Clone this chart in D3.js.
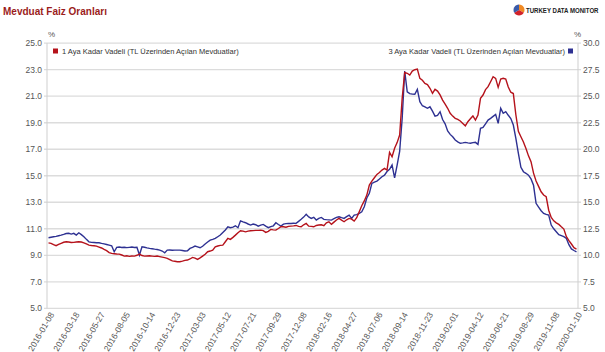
<!DOCTYPE html>
<html>
<head>
<meta charset="utf-8">
<script src="https://cdn.jsdelivr.net/npm/d3@7"></script>
<style>
  body { margin: 0; background: #fff; }
  svg { font-family: Arial, "Liberation Sans", sans-serif; }
</style>
</head>
<body>
<svg id="chart" width="605" height="352"></svg>
<script>
// weekly observations, 2016-01-08 .. 2020-01-10
const dates = d3.timeDay
  .range(new Date(2016, 0, 8), new Date(2020, 0, 11), 7)
  .map(d3.timeFormat('%Y-%m-%d'))
dates[190] = '2019-08-29'

const tickLabels = ['2016-01-08', '2016-03-18', '2016-05-27', '2016-08-05', '2016-10-14',
  '2016-12-23', '2017-03-03', '2017-05-12', '2017-07-21', '2017-09-29', '2017-12-08',
  '2018-02-16', '2018-04-27', '2018-07-06', '2018-09-14', '2018-11-23', '2019-02-01',
  '2019-04-12', '2019-06-21', '2019-08-29', '2019-11-08', '2020-01-10']

const seriesNames = [
  '1 Aya Kadar Vadeli (TL Üzerinden Açılan Mevduatlar)',
  '3 Aya Kadar Vadeli (TL Üzerinden Açılan Mevduatlar)'
]

// 1 month, left axis (%)
const oneMonth = [
  9.94, 9.90, 9.80, 9.72, 9.82, 9.90, 9.98, 10.02, 10.00, 9.96,
  9.97, 10.00, 10.02, 10.00, 9.94, 9.86, 9.77, 9.74, 9.72, 9.69,
  9.62, 9.55, 9.44, 9.35, 9.20, 9.14, 9.12, 9.10, 9.09, 9.02,
  8.94, 8.96, 8.92, 8.95, 8.94, 9.00, 9.09, 8.98, 8.94, 8.95,
  8.96, 8.94, 8.92, 8.94, 8.90, 8.86, 8.82, 8.77, 8.68, 8.58,
  8.55, 8.51, 8.51, 8.56, 8.62, 8.64, 8.72, 8.84, 8.78, 8.69,
  8.80, 8.94, 9.08, 9.27, 9.32, 9.39, 9.64, 9.70, 9.75, 9.77,
  10.02, 10.27, 10.20, 10.35, 10.52, 10.70, 10.85, 10.82, 10.77, 10.82,
  10.85, 10.86, 10.88, 10.88, 10.90, 10.86, 10.73, 10.80, 10.95, 10.92,
  10.90, 11.02, 11.15, 11.15, 11.12, 11.18, 11.20, 11.22, 11.25, 11.18,
  11.15, 11.30, 11.40, 11.20, 11.18, 11.15, 11.25, 11.28, 11.30, 11.23,
  11.45, 11.53, 11.33, 11.50, 11.66, 11.78, 11.65, 11.53, 11.68, 11.78,
  11.73, 11.58, 11.83, 12.28, 12.74, 13.10, 13.54, 14.30, 14.60, 14.85,
  15.10, 15.25, 15.43, 15.56, 15.43, 16.77, 16.43, 17.07, 17.50, 18.07,
  20.84, 22.80, 22.73, 22.60, 22.90, 23.00, 23.05, 22.35, 22.20, 21.97,
  21.88, 21.60, 21.22, 21.52, 21.39, 21.10, 20.71, 20.40, 20.09, 19.71,
  19.50, 19.33, 19.25, 19.13, 18.95, 18.77, 19.08, 19.30, 19.51, 19.20,
  19.58, 20.84, 21.09, 21.50, 21.72, 22.09, 22.47, 22.35, 21.67, 22.30,
  22.35, 22.30, 21.70, 21.30, 21.20, 19.60, 18.35, 17.94, 17.55, 17.05,
  16.50, 16.06, 15.20, 14.60, 14.20, 13.79, 13.55, 13.42, 12.40, 11.85,
  11.60, 11.45, 11.33, 11.15, 10.98, 10.40, 10.10, 9.85, 9.57, 9.47
]

// 3 month, right axis (%)
const threeMonth = [
  11.65, 11.70, 11.75, 11.78, 11.84, 11.90, 11.97, 12.05, 12.07, 12.00,
  12.07, 11.90, 12.12, 11.95, 11.75, 11.50, 11.27, 11.22, 11.20, 11.18,
  11.18, 11.12, 11.08, 11.02, 10.96, 10.90, 10.33, 10.75, 10.78, 10.74,
  10.76, 10.72, 10.75, 10.78, 10.74, 10.75, 10.02, 10.80, 10.76, 10.70,
  10.65, 10.62, 10.58, 10.55, 10.49, 10.40, 10.24, 10.49, 10.50, 10.48,
  10.49, 10.49, 10.49, 10.45, 10.40, 10.42, 10.65, 10.75, 10.87, 10.80,
  10.71, 10.85, 11.06, 11.25, 11.43, 11.50, 11.59, 11.75, 11.91, 12.15,
  12.38, 12.69, 12.60, 12.65, 12.78, 12.60, 13.25, 13.15, 13.07, 12.95,
  12.85, 12.94, 12.88, 12.75, 12.85, 12.91, 12.75, 12.60, 12.70, 12.78,
  13.07, 12.90, 12.75, 12.94, 12.98, 13.01, 13.00, 13.02, 13.01, 13.20,
  13.39, 13.60, 13.86, 13.62, 13.48, 13.58, 13.32, 13.48, 13.57, 13.39,
  13.36, 13.34, 13.32, 13.45, 13.57, 13.63, 13.55, 13.48, 13.65, 13.79,
  13.48, 13.79, 13.84, 13.95, 14.10, 14.58, 15.40, 15.84, 16.78, 16.90,
  17.00, 17.19, 17.41, 17.55, 17.90, 18.10, 18.51, 17.31, 18.51, 19.80,
  22.90, 27.38, 25.42, 25.25, 25.20, 25.18, 25.65, 24.48, 24.10, 24.00,
  23.86, 24.00, 23.60, 23.13, 23.20, 23.54, 22.80, 22.40, 21.72, 21.40,
  21.18, 20.87, 20.70, 20.56, 20.60, 20.65, 20.60, 20.56, 20.62, 20.65,
  20.46, 21.97, 22.05, 22.40, 22.75, 22.91, 23.10, 23.29, 22.44, 23.86,
  23.39, 23.54, 23.20, 22.90, 22.28, 21.03, 19.60, 18.30, 17.88, 17.73,
  17.55, 17.20, 16.60, 14.90, 14.55, 14.20, 13.95, 13.85, 13.79, 12.85,
  12.50, 12.22, 11.95, 11.85, 11.75, 11.59, 11.00, 10.60, 10.45, 10.33
]

const leftTicks = d3.range(5, 25.01, 2)
const rightTicks = d3.range(5, 30.01, 2.5)

const red = '#b5121b'
const blue = '#2e3192'

const plot = { left: 47, right: 578, top: 43.2, bottom: 308.3 }

const svg = d3.select('#chart')

const x = d3.scalePoint().domain(dates).range([plot.left, plot.right]).padding(0.6)
const yL = d3.scaleLinear().domain([5, 25]).range([plot.bottom, plot.top])
const yR = d3.scaleLinear().domain([5, 30]).range([plot.bottom, plot.top])

// title
svg.append('text')
  .attr('x', 3).attr('y', 15)
  .attr('fill', '#9b1c1c')
  .style('font-size', '10px')
  .style('font-weight', 'bold')
  .text('Mevduat Faiz Oranları')

// logo
const logo = svg.append('g').attr('transform', 'translate(519,10)')
const pie = d3.pie().sort(null)([1, 1, 1])
const arc = d3.arc().innerRadius(0).outerRadius(5.5)
logo.selectAll('path')
  .data(pie)
  .enter()
  .append('path')
  .attr('d', arc)
  .attr('fill', (d, i) => ['#f08a24', '#d2232a', '#3b5ba9'][i])
// condensed look: squeeze a normal bold face horizontally
svg.append('text')
  .attr('transform', 'translate(526,13) scale(0.76,1)')
  .attr('fill', '#222')
  .style('font-size', '8px')
  .style('font-weight', 'bold')
  .text('TURKEY DATA MONITOR')

// gridlines
svg.append('g')
  .selectAll('line')
  .data(leftTicks)
  .enter()
  .append('line')
  .attr('x1', plot.left - 3).attr('x2', plot.right + 3)
  .attr('y1', d => yL(d)).attr('y2', d => yL(d))
  .attr('stroke', '#dcdcdc')
  .attr('stroke-width', 1.3)

// axis lines
svg.append('line')
  .attr('x1', plot.left).attr('x2', plot.left)
  .attr('y1', plot.top).attr('y2', plot.bottom)
  .attr('stroke', '#cfcfcf')
svg.append('line')
  .attr('x1', plot.right).attr('x2', plot.right)
  .attr('y1', plot.top).attr('y2', plot.bottom)
  .attr('stroke', '#cfcfcf')

// left axis labels
svg.append('g')
  .selectAll('text')
  .data(leftTicks)
  .enter()
  .append('text')
  .attr('x', plot.left - 5)
  .attr('y', d => yL(d) + 3)
  .attr('text-anchor', 'end')
  .attr('fill', '#555')
  .style('font-size', '8.5px')
  .text(d3.format('.1f'))

// right axis labels
svg.append('g')
  .selectAll('text')
  .data(rightTicks)
  .enter()
  .append('text')
  .attr('x', plot.right + 5)
  .attr('y', d => yR(d) + 3)
  .attr('fill', '#555')
  .style('font-size', '8.5px')
  .text(d3.format('.1f'))

svg.append('text').attr('x', 48).attr('y', 37)
  .attr('fill', '#555').style('font-size', '8px').text('%')
svg.append('text').attr('x', 574).attr('y', 37)
  .attr('fill', '#555').style('font-size', '8px').text('%')

// x labels
const tickDates = dates.filter((d, i) => i % 10 === 0 || i === dates.length - 1)
svg.append('g')
  .selectAll('text')
  .data(tickDates)
  .enter()
  .append('text')
  .attr('transform', d => `translate(${x(d) + 6},${plot.bottom + 6}) rotate(-60)`)
  .attr('text-anchor', 'end')
  .attr('fill', '#555')
  .style('font-size', '8.5px')
  .text((d, i) => tickLabels[i])

// lines
const lineL = d3.line().x((d, i) => x(dates[i])).y(d => yL(d))
const lineR = d3.line().x((d, i) => x(dates[i])).y(d => yR(d))

svg.append('path')
  .datum(threeMonth)
  .attr('d', lineR)
  .attr('fill', 'none')
  .attr('stroke', blue)
  .attr('stroke-width', 1.4)

svg.append('path')
  .datum(oneMonth)
  .attr('d', lineL)
  .attr('fill', 'none')
  .attr('stroke', red)
  .attr('stroke-width', 1.4)

// legend
svg.append('rect')
  .attr('x', 53).attr('y', 48.5).attr('width', 5).attr('height', 5)
  .attr('fill', red)
svg.append('text')
  .attr('x', 62).attr('y', 54)
  .attr('fill', '#333')
  .style('font-size', '7.5px')
  .text(seriesNames[0])

svg.append('rect')
  .attr('x', 568).attr('y', 48.5).attr('width', 5).attr('height', 5)
  .attr('fill', blue)
svg.append('text')
  .attr('x', 565).attr('y', 54)
  .attr('text-anchor', 'end')
  .attr('fill', '#333')
  .style('font-size', '7.5px')
  .text(seriesNames[1])
</script>
</body>
</html>
